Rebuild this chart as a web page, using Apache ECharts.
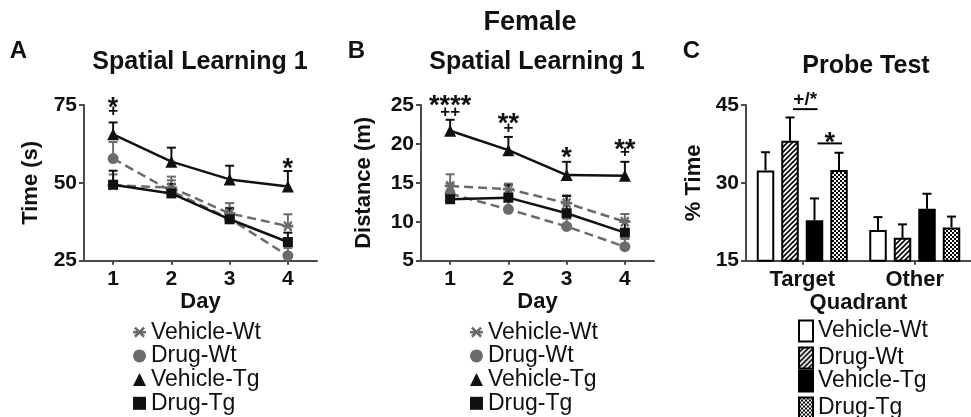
<!DOCTYPE html>
<html><head><meta charset="utf-8">
<script src="https://cdn.jsdelivr.net/npm/echarts@6/dist/echarts.min.js"></script>
<style>html,body{margin:0;padding:0;background:#fff}#c{width:971px;height:417px}</style>
</head><body><div id="c"></div><script>
// ---------- data ----------
const days = ['1', '2', '3', '4'];
const groupNames = ['Vehicle-Wt', 'Drug-Wt', 'Vehicle-Tg', 'Drug-Tg'];
const quadrants = ['Target', 'Other'];

// Panel A: Time (s)
const timeVehWt = [49.2, 48.5, 40.2, 36.1];
const timeVehWtSem = [3.5, 3.5, 3.3, 3.8];
const timeDrugWt = [57.8, 47.3, 38.5, 26.6];
const timeDrugWtSem = [5.3, 3.5, 3.5, 2.5];
const timeVehTg = [65.6, 56.8, 51.1, 48.8];
const timeVehTgSem = [3.8, 4.5, 4.4, 5.0];
const timeDrugTg = [49.4, 46.6, 38.3, 31.0];
const timeDrugTgSem = [4.5, 3.0, 3.5, 3.0];
const timeTicks = [25, 50, 75];

// Panel B: Distance (m)
const distVehWt = [14.6, 14.2, 12.4, 10.0];
const distVehWtSem = [1.5, 0.7, 1.0, 1.0];
const distDrugWt = [13.6, 11.6, 9.4, 6.8];
const distDrugWtSem = [1.3, 1.0, 1.0, 1.0];
const distVehTg = [21.7, 19.2, 16.0, 15.9];
const distVehTgSem = [1.4, 1.7, 1.7, 1.8];
const distDrugTg = [12.9, 13.1, 11.1, 8.6];
const distDrugTgSem = [0.8, 1.6, 2.2, 1.5];
const distTicks = [5, 10, 15, 20, 25];

// Panel C: % Time (Target, Other)
const probeVehWt = [32.4, 20.9];
const probeVehWtSem = [3.5, 2.5];
const probeDrugWt = [38.1, 19.4];
const probeDrugWtSem = [4.5, 2.6];
const probeVehTg = [22.8, 25.0];
const probeVehTgSem = [4.2, 2.9];
const probeDrugTg = [32.5, 21.4];
const probeDrugTgSem = [3.3, 2.1];
const probeTicks = [15, 30, 45];

// significance annotations
const annotADay = [0, 0, 3];
const annotAValue = [76.1, 72.9, 56.7];
const annotAText = ['*', '+', '*'];
const annotBDay = [0, 0, 1, 1, 2, 3, 3];
const annotBValue = [25.7, 24.1, 23.4, 22.0, 19.0, 20.1, 18.9];
const annotBText = ['****', '++', '**', '+', '*', '**', '+'];
const sigCGroup = [0, 0];
const sigCFrom = [1, 2];
const sigCTo = [2, 3];
const sigCLineValue = [44.2, 37.6];
const sigCTextValue = [46.0, 38.9];
const sigCText = ['+/*', '*'];

// ---------- styling ----------
const FF = '"Liberation Sans", Arial, Helvetica, sans-serif';
const GRAY = '#6b6b6b';
const BLACK = '#111';
const AXIS = '#4a4a4a';
const asteriskPath = 'path://M0,4L10,4L10,6L0,6Z M0.8,2.2L2.2,0.8L9.2,7.8L7.8,9.2Z M7.8,0.8L9.2,2.2L2.2,9.2L0.8,7.8Z';

function makeHatch() {
  const c = document.createElement('canvas'); c.width = 5; c.height = 5;
  const g = c.getContext('2d');
  g.fillStyle = '#fff'; g.fillRect(0, 0, 5, 5);
  g.strokeStyle = '#000'; g.lineWidth = 1.6;
  g.beginPath();
  g.moveTo(-1, 6); g.lineTo(6, -1);
  g.moveTo(-3.5, 3.5); g.lineTo(3.5, -3.5);
  g.moveTo(1.5, 8.5); g.lineTo(8.5, 1.5);
  g.stroke();
  return c;
}
function makeChecker() {
  const c = document.createElement('canvas'); c.width = 4; c.height = 4;
  const g = c.getContext('2d');
  g.fillStyle = '#fff'; g.fillRect(0, 0, 4, 4);
  g.fillStyle = '#000'; g.fillRect(0, 0, 2, 2); g.fillRect(2, 2, 2, 2);
  return c;
}
const barFills = ['#ffffff', { image: makeHatch(), repeat: 'repeat' }, '#000000', { image: makeChecker(), repeat: 'repeat' }];

const lineStyles = [
  { color: GRAY, type: [9, 5], symbol: asteriskPath, size: 11 },
  { color: GRAY, type: [9, 5], symbol: 'circle', size: 11 },
  { color: BLACK, type: 'solid', symbol: 'triangle', size: 12 },
  { color: BLACK, type: 'solid', symbol: 'rect', size: 10 }
];

function lineSeries(ax, idx, data) {
  const s = lineStyles[idx];
  return {
    type: 'line', name: groupNames[idx], xAxisIndex: ax, yAxisIndex: ax, data: data,
    symbol: s.symbol, symbolSize: s.size, showSymbol: true,
    lineStyle: { color: s.color, width: 2.5, type: s.type },
    itemStyle: { color: s.color }, z: 3 + (idx >= 2 ? 1 : 0), animation: false, silent: true
  };
}
function errSeries(ax, vals, sems, color, dx) {
  return {
    type: 'custom', xAxisIndex: ax, yAxisIndex: ax, silent: true, z: 2, animation: false,
    data: vals.map((v, i) => [i, v, sems[i]]), encode: { x: 0, y: 1 },
    renderItem: function (params, api) {
      const x = api.value(0), v = api.value(1), s = api.value(2);
      const p1 = api.coord([x, v]), p2 = api.coord([x, v + s]);
      const cx = p1[0] + dx;
      return { type: 'group', children: [
        { type: 'line', shape: { x1: cx, y1: p1[1], x2: cx, y2: p2[1] }, style: { stroke: color, lineWidth: 2 } },
        { type: 'line', shape: { x1: cx - 4.5, y1: p2[1], x2: cx + 4.5, y2: p2[1] }, style: { stroke: color, lineWidth: 2 } }
      ] };
    }
  };
}
function textSeries(ax, cats, vals, texts) {
  return {
    type: 'custom', xAxisIndex: ax, yAxisIndex: ax, silent: true, z: 10, animation: false,
    data: cats.map((c, i) => [c, vals[i]]), encode: { x: 0, y: 1 },
    renderItem: function (params, api) {
      const p = api.coord([api.value(0), api.value(1)]);
      const t = texts[params.dataIndex];
      const star = t.indexOf('+') < 0;
      const fs = star ? 27 : 17;
      return { type: 'text', x: p[0], y: p[1] + (star ? fs * 0.27 : 0),
        style: { text: t, font: 'bold ' + fs + 'px ' + FF, align: 'center', verticalAlign: 'middle', fill: BLACK } };
    }
  };
}

const BW = 17.5, BGAP = 7;
function barOffset(i) { return (i - 1.5) * (BW + BGAP); }

const probeVals = [probeVehWt, probeDrugWt, probeVehTg, probeDrugTg];
const probeSems = [probeVehWtSem, probeDrugWtSem, probeVehTgSem, probeDrugTgSem];

const tickLabel = { fontFamily: FF, fontWeight: 'bold', fontSize: 21, color: BLACK };
const axisNameStyle = { fontFamily: FF, fontWeight: 'bold', fontSize: 22, color: BLACK };
const axisLine = { show: true, lineStyle: { color: AXIS, width: 2 } };

function yAxis(ax, ticks, name, gap) {
  return {
    type: 'value', gridIndex: ax, min: ticks[0], max: ticks[ticks.length - 1], interval: ticks[1] - ticks[0],
    axisLine: axisLine, axisTick: { show: true, length: 5, lineStyle: { color: AXIS, width: 2 } },
    axisLabel: Object.assign({ margin: 7 }, tickLabel), splitLine: { show: false },
    name: name, nameLocation: 'middle', nameGap: gap, nameRotate: 90, nameTextStyle: axisNameStyle
  };
}
function xAxis(ax, cats, name, gap, labelSize) {
  return {
    type: 'category', gridIndex: ax, data: cats, boundaryGap: true,
    axisLine: axisLine, axisTick: { show: true, alignWithLabel: true, length: 4, lineStyle: { color: AXIS, width: 2 } },
    axisLabel: Object.assign({}, tickLabel, { margin: 8, fontSize: labelSize }), splitLine: { show: false },
    name: name, nameLocation: 'middle', nameGap: gap, nameTextStyle: axisNameStyle
  };
}

const series = [];
const timeData = [timeVehWt, timeDrugWt, timeVehTg, timeDrugTg];
const timeSem = [timeVehWtSem, timeDrugWtSem, timeVehTgSem, timeDrugTgSem];
const distData = [distVehWt, distDrugWt, distVehTg, distDrugTg];
const distSem = [distVehWtSem, distDrugWtSem, distVehTgSem, distDrugTgSem];
for (let i = 0; i < 4; i++) {
  series.push(errSeries(0, timeData[i], timeSem[i], lineStyles[i].color, 0));
  series.push(lineSeries(0, i, timeData[i]));
  series.push(errSeries(1, distData[i], distSem[i], lineStyles[i].color, 0));
  series.push(lineSeries(1, i, distData[i]));
}
series.push(textSeries(0, annotADay, annotAValue, annotAText));
series.push(textSeries(1, annotBDay, annotBValue, annotBText));
for (let i = 0; i < 4; i++) {
  series.push({
    type: 'bar', name: 'C:' + groupNames[i], xAxisIndex: 2, yAxisIndex: 2, data: probeVals[i],
    barWidth: BW, barGap: (BGAP / BW * 100) + '%', animation: false, silent: true,
    itemStyle: { color: barFills[i], borderColor: '#000', borderWidth: 2 }, z: 3
  });
  series.push(errSeries(2, probeVals[i], probeSems[i], '#000', barOffset(i)));
}
series.push({
  type: 'custom', xAxisIndex: 2, yAxisIndex: 2, silent: true, z: 10, animation: false,
  data: sigCGroup.map((g, i) => [g, sigCLineValue[i], sigCTextValue[i]]), encode: { x: 0, y: 1 },
  renderItem: function (params, api) {
    const i = params.dataIndex;
    const pl = api.coord([api.value(0), api.value(1)]);
    const pt = api.coord([api.value(0), api.value(2)]);
    const x1 = pl[0] + barOffset(sigCFrom[i]) + 3, x2 = pl[0] + barOffset(sigCTo[i]) + 3;
    const star = sigCText[i] === '*';
    const fs = star ? 27 : 19;
    return { type: 'group', children: [
      { type: 'line', shape: { x1: x1, y1: pl[1], x2: x2, y2: pl[1] }, style: { stroke: '#000', lineWidth: 2 } },
      { type: 'text', x: (x1 + x2) / 2, y: pt[1] + (star ? fs * 0.27 : 0),
        style: { text: sigCText[i], font: 'bold ' + fs + 'px ' + FF, align: 'center', verticalAlign: 'middle', fill: BLACK } }
    ] };
  }
});

const lineLegendIcons = [asteriskPath, 'circle', 'triangle', 'rect'];
const legendText = { fontFamily: FF, fontSize: 23, color: BLACK, lineHeight: 22 };
function lineLegend(left) {
  return {
    orient: 'vertical', left: left, top: 320.7, height: 96, padding: 0, itemWidth: 13, itemHeight: 13, itemGap: 0.7,
    selectedMode: false, textStyle: legendText,
    data: groupNames.map((n, i) => ({ name: n, icon: lineLegendIcons[i] }))
  };
}
function barLegend(top, names) {
  return {
    orient: 'vertical', left: 798, top: top, height: 60, padding: 0, itemWidth: 14, itemHeight: 21, itemGap: 4,
    selectedMode: false, textStyle: Object.assign({}, legendText, { lineHeight: 21 }),
    itemStyle: { borderColor: '#000', borderWidth: 2 },
    formatter: n => n.slice(2),
    data: names.map(n => ({ name: 'C:' + n, icon: 'rect' }))
  };
}

const titleFont = 'bold 25px ' + FF;
const graphics = [
  { type: 'text', x: 530, y: 22.5, style: { text: 'Female', font: 'bold 27px ' + FF, align: 'center', verticalAlign: 'middle', fill: BLACK } },
  { type: 'text', x: 18.5, y: 51, style: { text: 'A', font: 'bold 24px ' + FF, align: 'center', verticalAlign: 'middle', fill: BLACK } },
  { type: 'text', x: 356.5, y: 51, style: { text: 'B', font: 'bold 24px ' + FF, align: 'center', verticalAlign: 'middle', fill: BLACK } },
  { type: 'text', x: 691.5, y: 51, style: { text: 'C', font: 'bold 24px ' + FF, align: 'center', verticalAlign: 'middle', fill: BLACK } },
  { type: 'text', x: 200, y: 62, style: { text: 'Spatial Learning 1', font: titleFont, align: 'center', verticalAlign: 'middle', fill: BLACK } },
  { type: 'text', x: 537, y: 62, style: { text: 'Spatial Learning 1', font: titleFont, align: 'center', verticalAlign: 'middle', fill: BLACK } },
  { type: 'text', x: 866, y: 66, style: { text: 'Probe Test', font: titleFont, align: 'center', verticalAlign: 'middle', fill: BLACK } }
];

const chart = echarts.init(document.getElementById('c'), null, { renderer: 'canvas' });
chart.setOption({
  animation: false,
  backgroundColor: '#fff',
  grid: [
    { left: 84, width: 233, top: 105, height: 155.7 },
    { left: 421, width: 233, top: 105, height: 155.7 },
    { left: 746, width: 232, top: 105, height: 155.7 }
  ],
  xAxis: [xAxis(0, days, 'Day', 28, 21), xAxis(1, days, 'Day', 28, 21), xAxis(2, quadrants, 'Quadrant', 30, 22)],
  yAxis: [yAxis(0, timeTicks, 'Time (s)', 42), yAxis(1, distTicks, 'Distance (m)', 46), yAxis(2, probeTicks, '% Time', 41)],
  legend: [
    lineLegend(133),
    lineLegend(470),
    barLegend(319.5, groupNames.slice(0, 2)),
    barLegend(369.5, groupNames.slice(2, 4))
  ],
  graphic: graphics,
  series: series
});
</script></body></html>
